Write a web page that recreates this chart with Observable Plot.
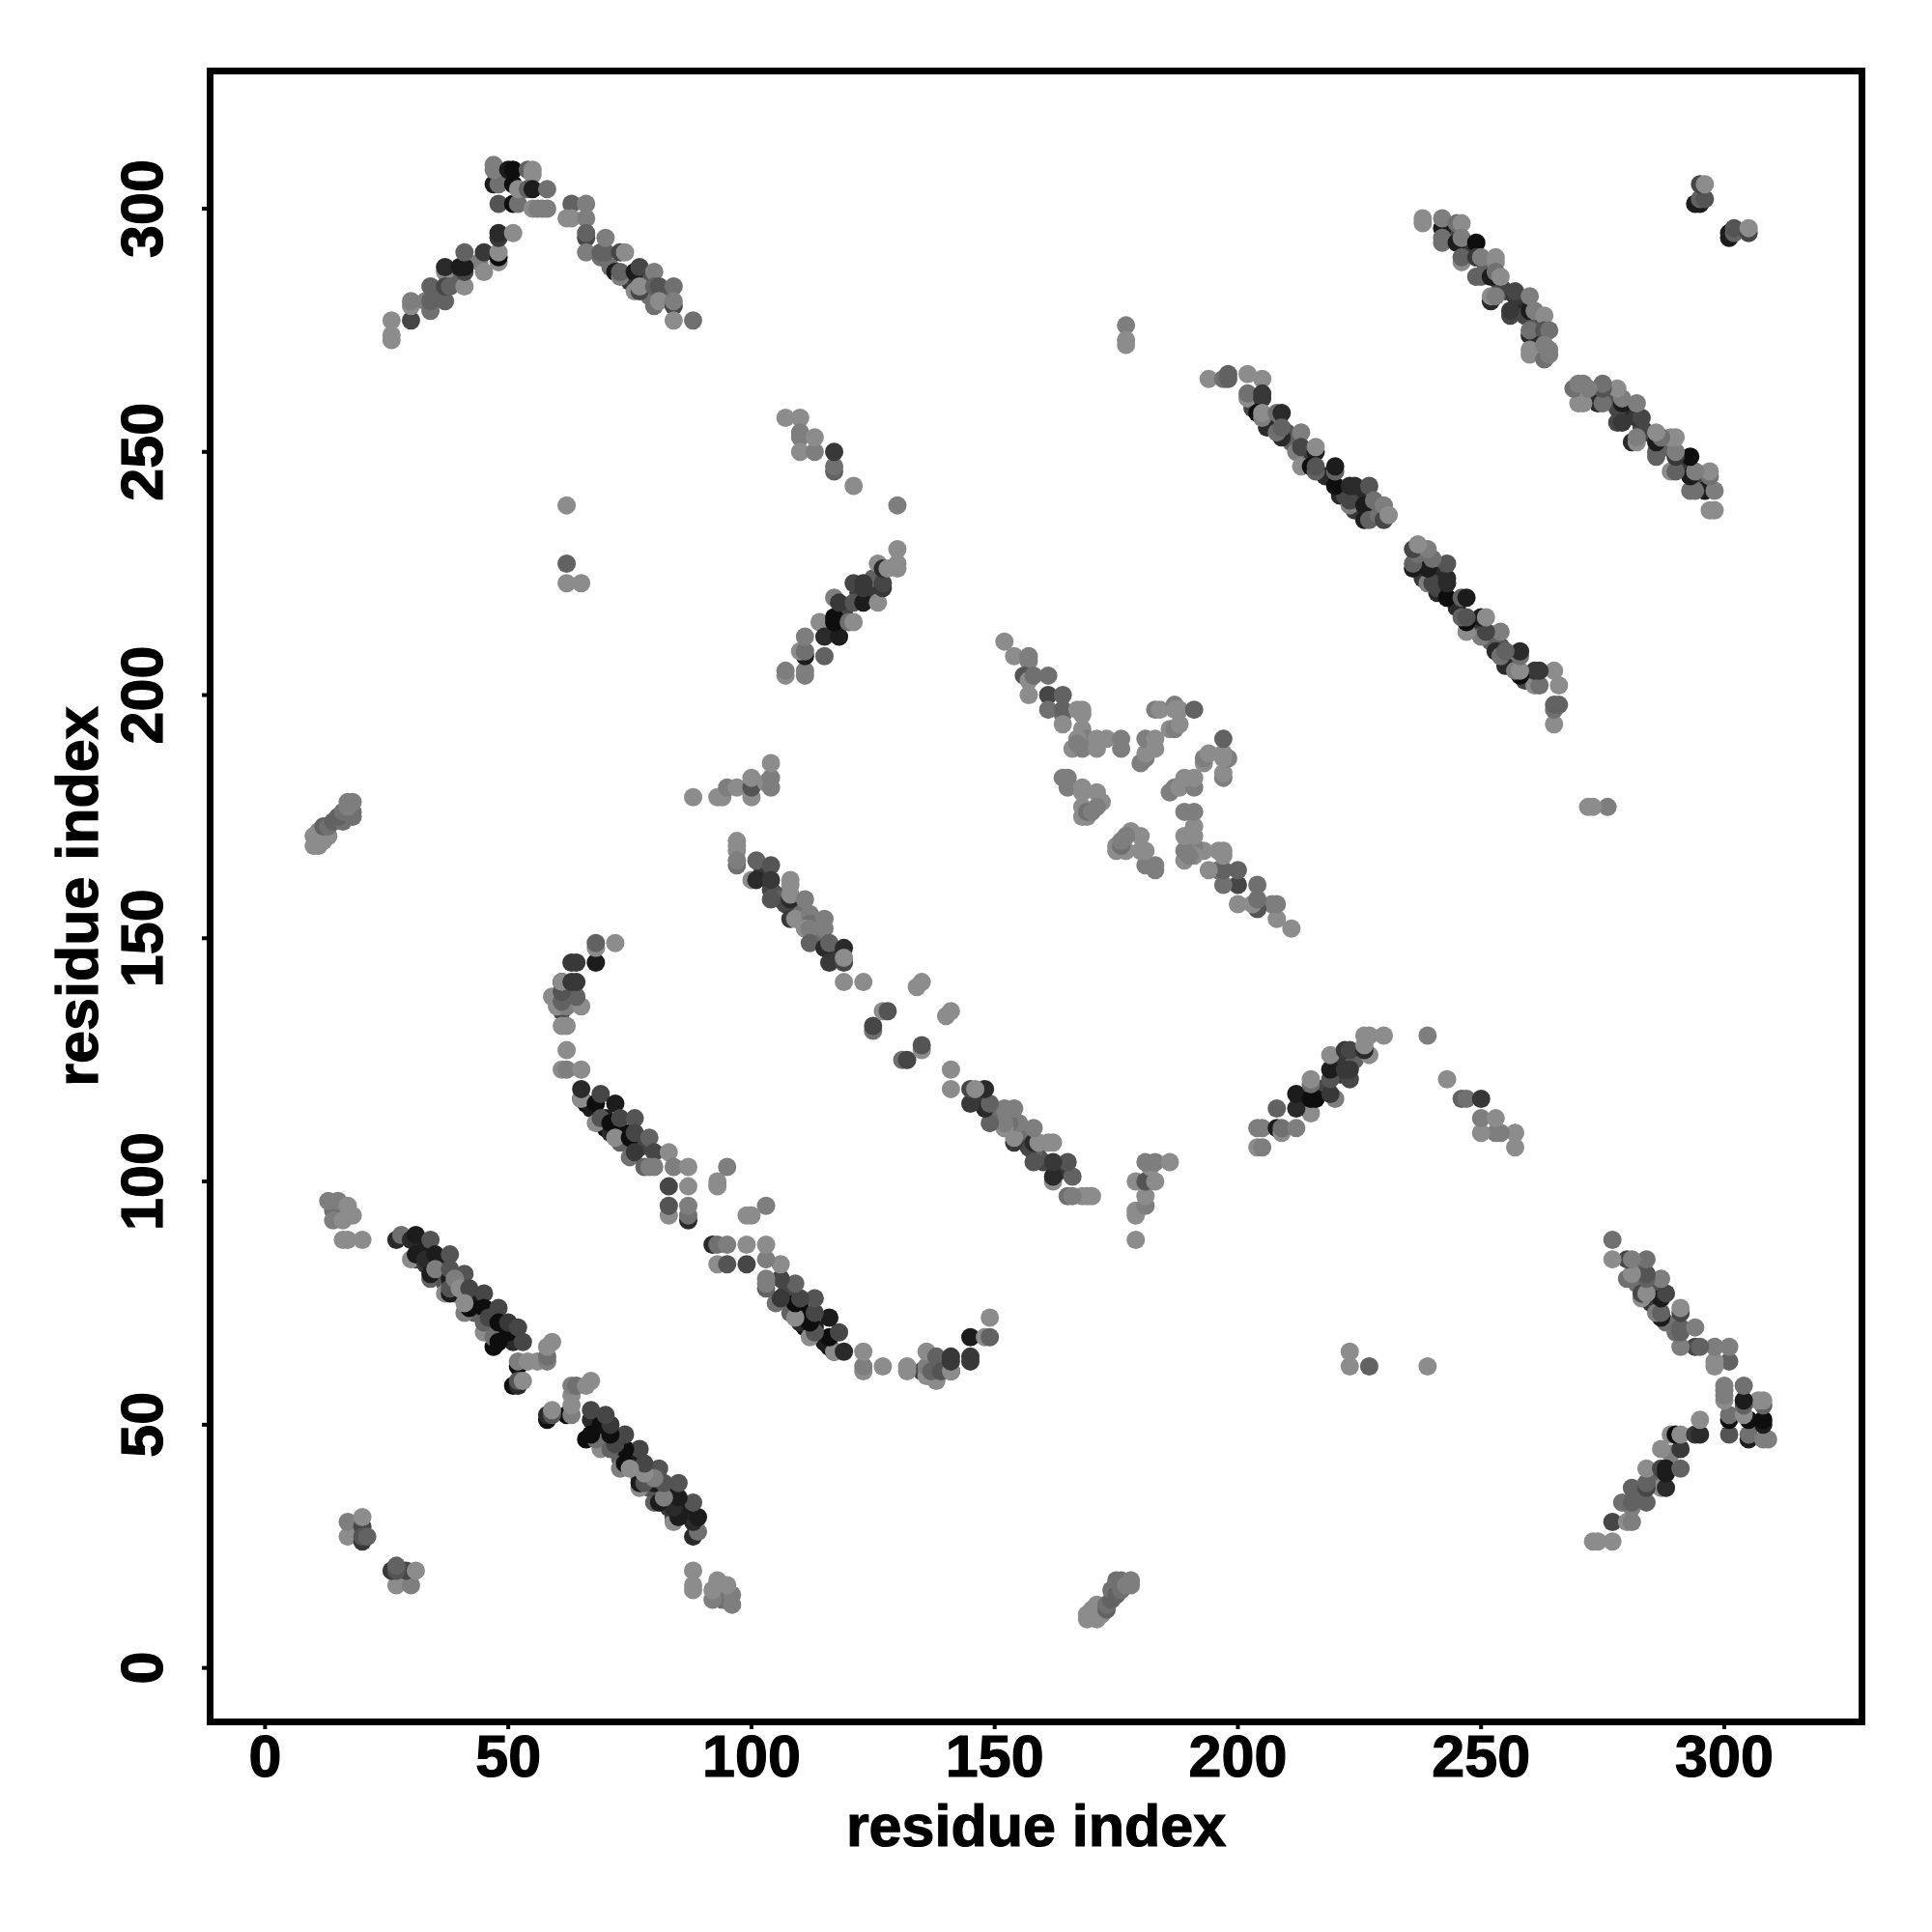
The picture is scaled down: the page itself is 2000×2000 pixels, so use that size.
<!DOCTYPE html>
<html>
<head>
<meta charset="utf-8">
<script src="https://cdn.jsdelivr.net/npm/d3@7"></script>
<script src="https://cdn.jsdelivr.net/npm/@observablehq/plot@0.6"></script>
<style>html,body{margin:0;padding:0;background:#fff}svg{display:block}svg text{stroke:#000;stroke-width:1.2px}</style>
</head>
<body>
<div id="chart"></div>
<script>
// Contacts as [residue i, residue j, strength 0-9]; i < j, the map is symmetric.
const partlyHidden = [[32,86,8],[31,84,6],[34,84,7],[36,84,8],[42,76,9],[43,75,8],[44,75,8],[43,73,3],[46,70,9],[47,70,9],[49,68,9],[51,67,7],[49,69,9],[34,80,3],[37,79,4],[39,77,3],[47,73,8],[66,116,9],[67,115,8],[70,113,8],[70,111,9],[71,110,7],[74,110,9],[73,108,3],[77,107,5],[104,160,5],[102,163,6],[105,159,4],[109,156,2],[110,155,2],[113,151,2],[114,150,2],[117,147,6],[118,146,6],[106,158,3],[107,157,5],[203,259,5],[206,255,7],[210,254,4],[211,252,3],[214,248,6],[218,245,7],[221,241,7],[222,241,5],[225,240,7],[224,238,6],[228,238,2],[243,295,5],[247,292,4],[248,291,6],[251,288,3],[254,284,5],[255,283,5],[258,280,7],[259,278,5],[261,276,4],[262,273,2],[116,213,7],[119,217,5],[122,221,6],[124,221,6],[125,224,3],[35,283,3],[39,286,3],[44,289,1],[71,288,2],[75,285,6],[78,285,4],[79,282,2],[82,282,3]];
const clusterA = [[12,171,0],[11,172,0],[10,171,0],[10,169,0],[11,169,0],[12,170,0],[13,171,0],[12,173,3],[13,173,2],[14,174,3],[16,174,2],[15,175,3],[18,175,2],[16,176,2],[18,176,2],[17,177,1],[17,178,1],[18,178,1]];
const clusterB = [[14,94,2],[13,96,1],[15,96,1],[17,95,0],[14,92,1],[16,92,0],[18,93,0],[16,88,0],[17,88,0],[20,88,0]];
const clusterC = [[17,27,0],[17,30,1],[20,29,5],[20,31,0],[20,26,6],[20,27,4],[21,27,3]];
const strandA = [[27,88,7],[28,89,2],[30,88,7],[31,89,8],[34,88,4],[30,84,0],[31,85,8],[33,83,6],[33,84,7],[35,85,8],[38,85,4],[34,81,8],[35,82,1],[38,80,8],[38,82,4],[41,81,4],[37,77,0],[38,77,8],[38,78,4],[39,80,1],[40,78,0],[41,73,1],[42,74,9],[42,78,5],[45,77,5],[41,75,0],[45,74,9],[45,69,0],[45,71,3],[46,72,5],[48,74,5],[47,66,9],[47,68,2],[48,67,9],[48,71,9],[50,69,9],[50,71,6],[52,70,5],[53,67,5],[52,62,9],[52,63,1],[54,63,0],[56,63,0],[58,63,1],[58,64,2],[58,66,0],[59,67,0],[51,58,9],[52,58,7],[52,59,4],[53,59,0]];
const strandB = [[26,273,0],[26,274,0],[26,277,0],[30,277,5],[30,280,0],[30,281,1],[33,281,1],[34,279,2],[34,281,3],[37,281,3],[34,284,3],[37,287,0],[37,288,7],[37,284,5],[38,284,3],[41,284,0],[41,287,5],[40,288,8],[41,288,8],[41,291,3],[45,287,0],[45,291,6],[48,289,0],[48,290,9],[48,291,0],[48,294,6],[48,295,7],[51,295,0]];
const strandC = [[47,305,8],[48,305,2],[47,308,1],[47,309,1],[48,301,4],[50,308,8],[51,308,9],[51,305,9],[51,301,9],[52,301,2],[52,304,0],[54,308,3],[55,308,0],[55,307,0],[54,304,3],[55,304,8],[58,304,2],[55,300,0],[56,300,1],[57,300,1],[58,300,1]];
const strandD = [[63,301,3],[66,301,1],[62,298,0],[63,298,0],[66,298,1],[66,294,5],[66,295,3],[66,291,1],[69,290,2],[69,291,3],[70,291,3],[70,294,1],[72,287,8],[73,286,1],[73,287,3],[73,291,5],[74,291,0],[76,287,8],[77,288,5],[80,287,1],[76,283,0],[77,283,5],[77,284,0],[80,284,3],[81,284,4],[84,284,2],[80,280,2],[81,281,0],[84,280,5],[84,281,1],[84,277,0],[88,277,2]];
const strandE = [[107,257,0],[110,257,0],[110,253,1],[110,254,1],[110,250,0],[113,250,1],[113,253,0],[117,246,3],[117,247,2],[117,250,6],[121,243,0],[130,239,1]];
const strandF = [[107,204,0],[107,205,1],[111,204,1],[111,205,1],[111,208,8],[110,209,0],[111,209,2],[111,212,1],[115,208,3],[114,215,0],[115,212,7],[118,212,8],[117,215,9],[117,216,9],[117,220,1],[118,219,6],[120,215,2],[121,215,0],[121,219,4],[123,219,8],[126,219,0],[121,223,5],[123,222,6],[123,223,6],[127,222,6],[127,223,5],[126,227,0],[127,226,7],[128,226,0],[130,226,0],[130,227,0],[130,230,0]];
const spotsA = [[62,239,0],[62,227,3],[62,223,0],[65,223,0],[177,276,1],[177,272,0],[177,273,0]];
const strandG = [[88,179,0],[93,179,0],[94,179,0],[95,181,1],[97,181,0],[100,179,0],[100,181,4],[100,183,0],[103,182,0],[104,181,1],[104,183,1],[104,186,0]];
const hookA = [[61,135,5],[61,136,2],[60,136,0],[62,136,1],[65,136,0],[59,138,0],[61,137,3],[64,138,3],[61,139,4],[61,141,9],[61,141,0],[63,141,6],[64,141,6],[63,145,6],[64,145,6],[68,145,8],[68,148,0],[68,149,3],[72,149,0],[61,132,0],[62,132,0],[62,127,0],[61,123,0],[62,123,1],[65,123,0]];
const strandH = [[65,117,9],[65,117,0],[65,119,7],[68,116,9],[69,118,5],[72,116,8],[68,112,0],[69,113,4],[71,112,9],[73,113,5],[76,113,4],[72,109,0],[75,109,9],[76,110,5],[79,109,3],[75,105,2],[76,106,6],[80,106,5],[83,106,0],[78,103,3],[79,103,1],[80,103,1],[84,103,1],[87,103,0],[83,99,5],[87,99,0],[83,93,0],[83,95,4],[87,92,7],[87,93,2],[87,95,1],[95,103,1],[93,99,0],[93,100,0]];
const strandI = [[97,170,0],[97,169,0],[97,168,0],[97,165,2],[97,166,1],[101,166,3],[100,162,0],[101,162,7],[104,165,4],[104,162,6],[104,158,4],[108,158,7],[108,159,0],[108,161,0],[108,162,0],[108,154,6],[109,154,0],[111,158,1],[112,155,1],[112,153,2],[111,152,0],[112,152,1],[112,149,3],[115,154,1],[115,152,1],[115,148,7],[116,149,3],[116,145,6],[119,148,7],[119,145,5],[119,146,0],[119,141,0],[123,141,0],[125,131,2],[125,132,5],[127,135,0],[128,135,4],[134,140,0],[135,141,0]];
const strandJ = [[152,211,0],[154,208,0],[157,207,1],[157,208,1],[156,204,4],[157,203,0],[158,204,2],[161,204,2],[157,200,0],[161,200,5],[164,200,3],[161,197,2],[164,196,2],[164,197,3],[164,194,0],[167,197,0],[168,196,0],[168,197,0],[168,193,0],[169,191,1],[167,191,0],[166,189,0],[167,190,1],[168,189,1],[171,189,0],[171,191,0],[173,191,0],[176,189,1],[176,191,1]];
const strandK = [[180,186,1],[181,187,1],[181,188,0],[182,190,0],[181,191,1],[183,189,0],[183,191,0],[183,197,1],[184,197,0],[187,198,1],[187,197,0],[188,197,0],[191,197,3],[186,193,0],[187,193,1],[188,194,0]];
const strandL = [[164,183,1],[165,183,1],[165,181,1],[168,181,0],[168,180,0],[171,180,0],[172,178,0],[168,175,0],[169,175,0],[168,177,0],[169,176,2],[170,176,1],[171,177,1]];
const strandM = [[194,265,0],[197,265,2],[198,265,3],[198,266,3],[202,266,0],[205,265,0],[202,261,0],[202,262,2],[205,261,6],[205,262,6],[204,258,9],[205,257,1],[205,258,0],[208,258,2],[209,258,7],[209,253,7],[208,254,2],[209,255,3],[212,250,1],[213,254,1],[213,251,5],[216,250,8],[216,251,0],[213,247,0],[215,247,9],[216,246,3],[216,247,4],[220,243,9],[220,246,3],[220,247,8],[223,239,1],[223,240,5],[223,243,7],[224,243,7],[227,243,4],[226,236,8],[226,239,8],[227,236,3],[228,240,2],[229,237,2],[230,236,5],[230,239,1],[231,237,0]];
const strandN = [[238,297,0],[238,298,0],[242,296,8],[242,298,1],[245,297,2],[246,297,0],[242,293,2],[242,294,2],[245,293,8],[246,294,1],[249,293,9],[246,289,0],[246,290,3],[249,290,6],[250,290,1],[253,289,0],[253,290,0],[249,286,3],[250,286,3],[252,286,8],[253,287,2],[254,286,0],[252,281,7],[252,282,0],[253,282,1],[257,282,6],[257,283,5],[256,278,5],[256,279,6],[260,279,8],[260,282,1],[261,279,1],[263,278,0],[260,274,7],[260,275,2],[263,275,4],[264,275,2],[260,270,0],[260,271,0],[263,269,2],[263,272,1],[264,270,1],[264,271,1]];
const clusterD = [[294,301,8],[295,301,8],[295,302,3],[296,302,4],[295,305,5],[296,305,0]];
const tickValues = [0, 50, 100, 150, 200, 250, 300];
const axisLabel = "residue index";

const halfMap = [partlyHidden, clusterA, clusterB, clusterC, strandA, strandB, strandC, strandD, strandE, strandF, spotsA, strandG, hookA, strandH, strandI, strandJ, strandK, strandL, strandM, strandN, clusterD].flat();
const contacts = halfMap.flatMap(([i, j, w]) => [{x: i, y: j, w}, {x: j, y: i, w}]);

const font = {fontFamily: "Liberation Sans", fontWeight: "bold"};
const plot = Plot.plot({
  width: 2000,
  height: 2000,
  marginLeft: 217,
  marginRight: 73,
  marginTop: 73,
  marginBottom: 218,
  style: {background: "#fff"},
  x: {domain: [-11.3, 328.3]},
  y: {domain: [-11.1, 328.3]},
  color: {type: "linear", domain: [0, 9], range: ["#8c8c8c", "#0e0e0e"]},
  marks: [
    Plot.dot(contacts, {x: "x", y: "y", fill: "w", r: 9.5, stroke: "none"}),
    Plot.frame({stroke: "#000", strokeWidth: 7}),
    Plot.axisX({ticks: tickValues, tickSize: 8, tickPadding: 5, strokeWidth: 4, fontSize: 61, ...font, color: "#000",
      label: axisLabel, labelAnchor: "center", labelArrow: "none", labelOffset: 128}),
    Plot.axisY({ticks: tickValues, tickSize: 8, tickPadding: 42, strokeWidth: 4, fontSize: 61, ...font, color: "#000", tickRotate: -90,
      label: axisLabel, labelAnchor: "center", labelArrow: "none", labelOffset: 160})
  ]
});
document.getElementById("chart").appendChild(plot);
</script>
</body>
</html>
